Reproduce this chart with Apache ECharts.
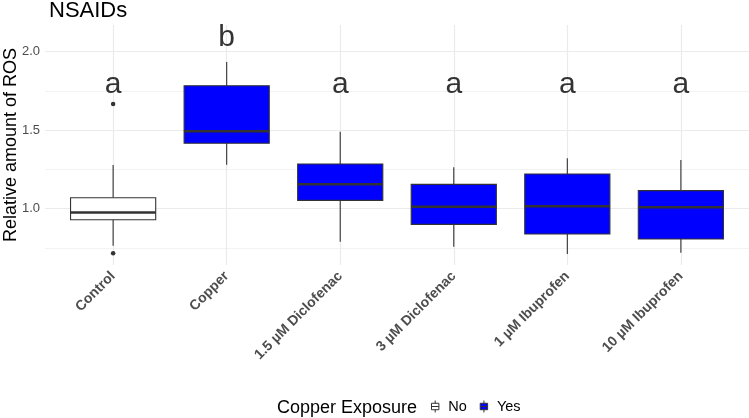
<!DOCTYPE html>
<html>
<head>
<meta charset="utf-8">
<script src="https://cdn.jsdelivr.net/npm/echarts@6/dist/echarts.min.js"></script>
<style>
html,body{margin:0;padding:0;background:#fff;}
#chart{width:749px;height:418px;}
</style>
</head>
<body>
<div id="chart"></div>
<script>
// ---- data ----
const categories = ['Control', 'Copper', '1.5 µM Diclofenac', '3 µM Diclofenac', '1 µM Ibuprofen', '10 µM Ibuprofen'];
const exposure   = ['No', 'Yes', 'Yes', 'Yes', 'Yes', 'Yes'];
const whiskerLow  = [0.764, 1.280, 0.790, 0.758, 0.711, 0.720];
const q1          = [0.930, 1.417, 1.053, 0.900, 0.839, 0.807];
const median      = [0.975, 1.493, 1.155, 1.013, 1.015, 1.009];
const q3          = [1.070, 1.783, 1.285, 1.155, 1.221, 1.115];
const whiskerHigh = [1.278, 1.934, 1.490, 1.264, 1.321, 1.310];
const outliers = [[0, 1.667], [0, 0.716]];
const letters  = ['a', 'b', 'a', 'a', 'a', 'a'];
const letterY  = [1.8, 2.1, 1.8, 1.8, 1.8, 1.8];
const yTicks      = [1.0, 1.5, 2.0];
const yMinorTicks = [0.75, 1.25, 1.75];
const YMIN = 0.6415, YMAX = 2.1695;

const FONT = "'Liberation Sans', Arial, sans-serif";
const fillColor = { No: '#ffffff', Yes: '#0000ff' };

function rowsFor(group) {
  const rows = [];
  categories.forEach((c, i) => {
    if (exposure[i] === group) rows.push([i, whiskerLow[i], q1[i], median[i], q3[i], whiskerHigh[i]]);
  });
  return rows;
}

function renderBox(params, api) {
  const i = api.value(0);
  const pLow = api.coord([i, api.value(1)]);
  const pQ1 = api.coord([i, api.value(2)]);
  const pMed = api.coord([i, api.value(3)]);
  const pQ3 = api.coord([i, api.value(4)]);
  const pHigh = api.coord([i, api.value(5)]);
  const band = api.size([1, 0])[0];
  const hw = band * 0.75 / 2;
  const x = pMed[0];
  const stroke = '#333333';
  return {
    type: 'group',
    children: [
      { type: 'line', shape: { x1: x, y1: pQ3[1], x2: x, y2: pHigh[1] }, style: { stroke: stroke, lineWidth: 1.1 } },
      { type: 'line', shape: { x1: x, y1: pLow[1], x2: x, y2: pQ1[1] }, style: { stroke: stroke, lineWidth: 1.1 } },
      { type: 'rect', shape: { x: x - hw, y: pQ3[1], width: hw * 2, height: pQ1[1] - pQ3[1] },
        style: { fill: api.visual('color'), stroke: stroke, lineWidth: 1.1 } },
      { type: 'line', shape: { x1: x - hw, y1: pMed[1], x2: x + hw, y2: pMed[1] }, style: { stroke: stroke, lineWidth: 2.5 } }
    ]
  };
}

const boxIcon = 'path://M5,0V3M1,3H9V10H1ZM1,6.5H9M5,10V13';

const chart = echarts.init(document.getElementById('chart'), null, { renderer: 'canvas' });
const option = {
  backgroundColor: '#ffffff',
  animation: false,
  textStyle: { fontFamily: FONT },
  title: [
    { text: 'NSAIDs', left: 44, top: -5, textStyle: { fontSize: 22, fontWeight: 'normal', color: '#000', fontFamily: FONT } },
    { text: 'Copper Exposure', left: 272, top: 394, textStyle: { fontSize: 18, fontWeight: 'normal', color: '#000', fontFamily: FONT } }
  ],
  legend: {
    left: 426, top: 394,
    itemWidth: 10, itemHeight: 12, itemGap: 13,
    textStyle: { fontSize: 14.5, color: '#000', fontFamily: FONT, padding: [0, 0, 0, 3] },
    data: [
      { name: 'No', icon: boxIcon, itemStyle: { color: '#ffffff', borderColor: '#333', borderWidth: 1 } },
      { name: 'Yes', icon: boxIcon, itemStyle: { color: '#0000ff', borderColor: '#333', borderWidth: 1 } }
    ]
  },
  grid: [
    { left: 45, right: 0, top: 25, bottom: 153, outerBoundsMode: 'none', containLabel: false },
    { left: 56.35, right: 11.35, top: 25, bottom: 153, outerBoundsMode: 'none', containLabel: false }
  ],
  xAxis: [
    { gridIndex: 0, type: 'value', min: 0, max: 1, show: false },
    {
      gridIndex: 1, type: 'category', data: categories,
      axisLine: { show: false }, axisTick: { show: false }, splitLine: { show: false },
      axisLabel: { interval: 0, rotate: 45, margin: 9, fontSize: 14, fontWeight: 'bold', color: '#4d4d4d', fontFamily: FONT }
    }
  ],
  yAxis: [
    {
      gridIndex: 0, type: 'value', min: YMIN, max: YMAX,
      axisLine: { show: false }, axisTick: { show: false }, splitLine: { show: false },
      axisLabel: { customValues: yTicks, formatter: v => v.toFixed(1), fontSize: 13, color: '#4d4d4d', margin: 5, fontFamily: FONT },
      name: 'Relative amount of ROS', nameLocation: 'middle', nameGap: 25, nameMoveOverlap: false,
      nameTextStyle: { fontSize: 18, color: '#000', fontFamily: FONT }
    },
    { gridIndex: 1, type: 'value', min: YMIN, max: YMAX, show: false }
  ],
  series: [
    {
      type: 'line', xAxisIndex: 0, yAxisIndex: 0, data: [], silent: true, z: 0,
      markLine: {
        silent: true, symbol: 'none', label: { show: false }, animation: false, z: 0,
        data: yMinorTicks.map(v => ({ yAxis: v, lineStyle: { color: '#f0f0f0', width: 0.8, type: 'solid' } }))
          .concat(yTicks.map(v => ({ yAxis: v, lineStyle: { color: '#ebebeb', width: 1.2, type: 'solid' } })))
      }
    },
    {
      type: 'scatter', xAxisIndex: 1, yAxisIndex: 1, data: [], silent: true, z: 0,
      markLine: {
        silent: true, symbol: 'none', label: { show: false }, animation: false, z: 0,
        data: categories.map(c => ({ xAxis: c, lineStyle: { color: '#ebebeb', width: 1.2, type: 'solid' } }))
      }
    },
    {
      name: 'No', type: 'custom', xAxisIndex: 1, yAxisIndex: 1, z: 3,
      itemStyle: { color: fillColor.No },
      encode: { x: 0, y: [1, 2, 3, 4, 5] },
      renderItem: renderBox, data: rowsFor('No')
    },
    {
      name: 'Yes', type: 'custom', xAxisIndex: 1, yAxisIndex: 1, z: 3,
      itemStyle: { color: fillColor.Yes },
      encode: { x: 0, y: [1, 2, 3, 4, 5] },
      renderItem: renderBox, data: rowsFor('Yes')
    },
    {
      type: 'scatter', xAxisIndex: 1, yAxisIndex: 1, silent: true, z: 4,
      symbol: 'circle', symbolSize: 4.5, itemStyle: { color: '#333333', opacity: 1 },
      data: outliers
    },
    {
      type: 'scatter', xAxisIndex: 1, yAxisIndex: 1, silent: true, z: 5,
      symbolSize: 0,
      data: letters.map((l, i) => [i, letterY[i]]),
      label: {
        show: true, position: 'inside', offset: [0, 2],
        formatter: p => letters[p.dataIndex],
        fontSize: 30, color: '#000', fontFamily: FONT,
        textBorderWidth: 0, textShadowBlur: 0
      }
    }
  ]
};
chart.setOption(option);
</script>
</body>
</html>
